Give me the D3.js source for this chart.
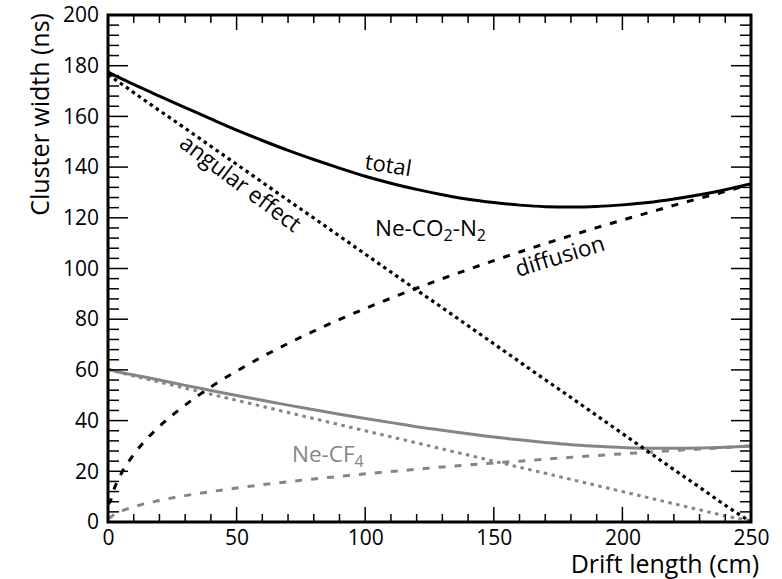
<!DOCTYPE html>
<html>
<head>
<meta charset="utf-8">
<script src="https://cdn.jsdelivr.net/npm/d3@7"></script>
<style>
  body { margin: 0; background: #fff; }
  text { font-family: "Open Sans", "Noto Sans", sans-serif; }
</style>
</head>
<body>
<svg width="782" height="579"></svg>
<script>
// drift length (cm)
var drift = [0, 1, 2, 5, 10, 20, 30, 40, 50, 60, 70, 80, 90, 100, 110, 120, 130, 140, 150, 160, 170, 180, 190, 200, 210, 220, 230, 240, 250];

// Ne-CO2-N2 (black)
var co2Total   = [177.5, 177, 176.5, 175, 172.6, 168, 163.5, 159, 154.6, 150.5, 146.6, 143, 139.6, 136.4, 133.6, 131.2, 129.1, 127.3, 126, 125, 124.4, 124.3, 124.5, 125.1, 126, 127.4, 129.1, 131.1, 133.5];
var co2Angular = [176.5, 175.8, 175.1, 173, 169.4, 162.3, 155.3, 148.2, 141.1, 134, 126.9, 119.9, 112.8, 105.7, 98.6, 91.5, 84.5, 77.4, 70.3, 63.2, 56.1, 49.1, 42, 34.9, 27.8, 20.7, 13.7, 6.6, 0];
var co2Diff    = [7, 8.4, 11.9, 18.8, 26.6, 37.7, 46.1, 53.3, 59.5, 65.2, 70.4, 75.3, 79.9, 84.2, 88.3, 92.2, 96, 99.6, 103.1, 106.5, 109.8, 113, 116.1, 119.1, 122, 124.9, 127.7, 130.4, 133.3];

// Ne-CF4 (grey)
var cf4Total   = [60.4, 60, 59.7, 59, 58, 56, 53.9, 51.9, 49.9, 48, 46.1, 44.3, 42.5, 40.8, 39.2, 37.6, 36.2, 34.8, 33.5, 32.4, 31.4, 30.5, 29.9, 29.4, 29.1, 29.1, 29.2, 29.5, 30];
var cf4Angular = [60.3, 59.9, 59.6, 58.9, 57.6, 55.2, 52.8, 50.4, 48, 45.6, 43.2, 40.8, 38.4, 36, 33.6, 31.2, 28.8, 26.4, 24, 21.6, 19.2, 16.8, 14.4, 12, 9.6, 7.2, 4.8, 2.4, 0.5];
var cf4Diff    = [1.5, 1.9, 2.7, 4.2, 6, 8.5, 10.4, 12, 13.4, 14.7, 15.9, 17, 18, 19, 19.9, 20.8, 21.7, 22.5, 23.3, 24, 24.8, 25.5, 26.2, 26.9, 27.5, 28.2, 28.8, 29.4, 30];

var yTicks = [0, 20, 40, 60, 80, 100, 120, 140, 160, 180, 200];
var xTicks = [0, 50, 100, 150, 200, 250];

var svg = d3.select("svg");
var pLeft = 108, pRight = 751, pTop = 15, pBottom = 522;

var x = d3.scaleLinear().domain([0, 250]).range([pLeft, pRight]);
var y = d3.scaleLinear().domain([0, 200]).range([pBottom, pTop]);

var grey = "#858585";

svg.append("clipPath").attr("id", "plot")
  .append("rect").attr("x", pLeft).attr("y", pTop)
  .attr("width", pRight - pLeft).attr("height", pBottom - pTop);

var plot = svg.append("g").attr("clip-path", "url(#plot)");

var series = [
  { v: cf4Angular, color: grey, width: 3, dash: "3.5,4.5" },
  { v: cf4Diff, color: grey, width: 3, dash: "7,9" },
  { v: cf4Total, color: grey, width: 3, dash: null },
  { v: co2Angular, color: "#000", width: 3.2, dash: "3.5,3.8" },
  { v: co2Diff, color: "#000", width: 3, dash: "7,9" },
  { v: co2Total, color: "#000", width: 3, dash: null }
];

var line = d3.line()
  .x(function(d, i) { return x(drift[i]); })
  .y(function(d) { return y(d); })
  .curve(d3.curveMonotoneX);

plot.selectAll(".curve")
  .data(series)
  .enter().append("path")
  .attr("class", "curve")
  .attr("d", function(s) { return line(s.v); })
  .attr("fill", "none")
  .attr("stroke", function(s) { return s.color; })
  .attr("stroke-width", function(s) { return s.width; })
  .attr("stroke-dasharray", function(s) { return s.dash; });

// axes
var fmt = function(d) { return d; };
var axL = svg.append("g").attr("transform", "translate(" + pLeft + ",0)")
  .call(d3.axisLeft(y).tickValues(yTicks).tickSize(0).tickPadding(9).tickFormat(fmt));
var axB = svg.append("g").attr("transform", "translate(0," + pBottom + ")")
  .call(d3.axisBottom(x).tickValues(xTicks).tickSize(0).tickPadding(3).tickFormat(fmt));

[axL, axB].forEach(function(a) {
  a.select(".domain").remove();
  a.selectAll("text").style("font-size", "21px").attr("fill", "#000");
});
axB.selectAll("text").attr("dy", "0.95em");

// tick marks (inside, on all four sides)
var ticks = svg.append("g").attr("stroke", "#000").attr("stroke-width", 1.5);
d3.range(0, 201, 4).forEach(function(v) {
  var len = v % 20 === 0 ? 20 : 11;
  ticks.append("line").attr("x1", pLeft).attr("x2", pLeft + len).attr("y1", y(v)).attr("y2", y(v));
  ticks.append("line").attr("x1", pRight).attr("x2", pRight - len).attr("y1", y(v)).attr("y2", y(v));
});
d3.range(0, 251, 10).forEach(function(v) {
  var len = v % 50 === 0 ? 15 : 8;
  ticks.append("line").attr("y1", pBottom).attr("y2", pBottom - len).attr("x1", x(v)).attr("x2", x(v));
  ticks.append("line").attr("y1", pTop).attr("y2", pTop + len).attr("x1", x(v)).attr("x2", x(v));
});

svg.append("rect")
  .attr("x", pLeft).attr("y", pTop)
  .attr("width", pRight - pLeft).attr("height", pBottom - pTop)
  .attr("fill", "none").attr("stroke", "#000").attr("stroke-width", 3);

// axis titles
svg.append("text")
  .attr("transform", "translate(49," + (pTop - 2) + ") rotate(-90)")
  .attr("text-anchor", "end")
  .style("font-size", "25px")
  .text("Cluster width (ns)");

svg.append("text")
  .attr("x", 759).attr("y", 573)
  .attr("text-anchor", "end")
  .style("font-size", "25px")
  .text("Drift length (cm)");

// curve labels
svg.append("text")
  .attr("transform", "translate(364,169) rotate(9)")
  .style("font-size", "22px")
  .text("total");

svg.append("text")
  .attr("transform", "translate(178,146) rotate(37)")
  .style("font-size", "22.5px")
  .text("angular effect");

var ne = svg.append("text").attr("x", 375).attr("y", 236).style("font-size", "22.5px");
ne.append("tspan").text("Ne-CO");
ne.append("tspan").attr("dy", 5).style("font-size", "16px").text("2");
ne.append("tspan").attr("dy", -5).text("-N");
ne.append("tspan").attr("dy", 5).style("font-size", "16px").text("2");

svg.append("text")
  .attr("transform", "translate(518,277) rotate(-17)")
  .style("font-size", "22.5px")
  .text("diffusion");

var cf = svg.append("text").attr("x", 292).attr("y", 462).style("font-size", "22.5px").attr("fill", grey);
cf.append("tspan").text("Ne-CF");
cf.append("tspan").attr("dy", 5).style("font-size", "16px").text("4");
</script>
</body>
</html>
